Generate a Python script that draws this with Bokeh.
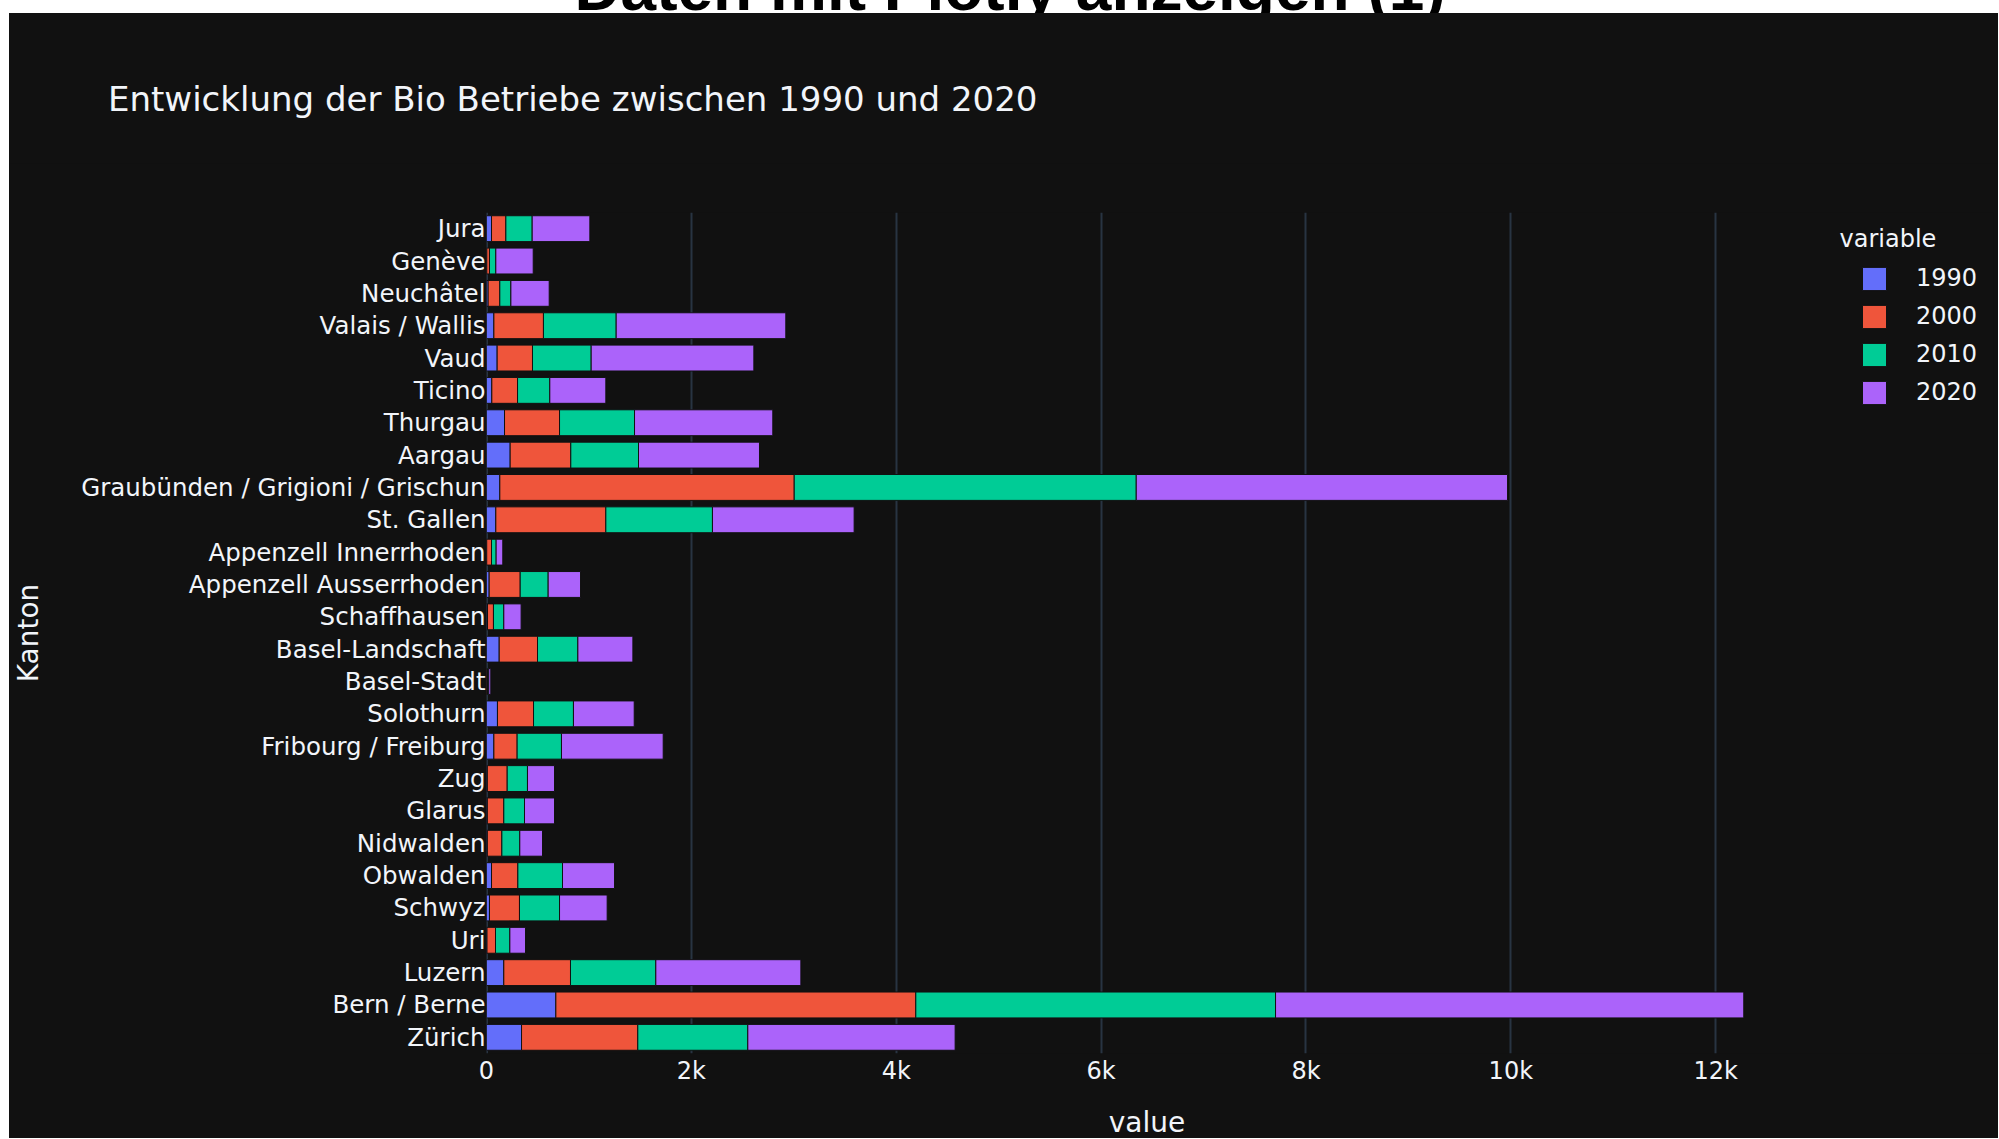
from bokeh.plotting import figure
from bokeh.models import (FactorRange, Range1d, FixedTicker, Span, Div, Label,
                          ColumnDataSource, Legend, LegendItem)
from bokeh.layouts import column
from bokeh.embed import file_html
from bokeh.resources import INLINE

# ---------------- data (bottom -> top, as in the chart) ----------------
kantone = [
    "Zürich", "Bern / Berne", "Luzern", "Uri", "Schwyz", "Obwalden",
    "Nidwalden", "Glarus", "Zug", "Fribourg / Freiburg", "Solothurn",
    "Basel-Stadt", "Basel-Landschaft", "Schaffhausen",
    "Appenzell Ausserrhoden", "Appenzell Innerrhoden", "St. Gallen",
    "Graubünden / Grigioni / Grischun", "Aargau", "Thurgau", "Ticino",
    "Vaud", "Valais / Wallis", "Neuchâtel", "Genève", "Jura",
]
v1990 = [342, 677, 169, 5, 29, 49, 8, 8, 8, 72, 107, 2, 124, 10, 26, 2,
         91, 130, 231, 176, 52, 104, 72, 16, 3, 49]
v2000 = [1135, 3514, 651, 83, 293, 257, 142, 161, 194, 227, 352, 8, 374, 58,
         303, 47, 1074, 2874, 592, 537, 251, 345, 484, 114, 26, 140]
v2010 = [1074, 3512, 833, 140, 391, 436, 175, 202, 198, 433, 390, 12, 394,
         101, 273, 45, 1041, 3339, 661, 732, 315, 573, 710, 108, 62, 257]
v2020 = [2024, 4571, 1416, 153, 465, 508, 222, 293, 264, 993, 593, 20, 537,
         169, 316, 65, 1383, 3625, 1181, 1350, 547, 1588, 1656, 374, 365, 563]
years = ["1990", "2000", "2010", "2020"]
colors = ["#636efa", "#EF553B", "#00cc96", "#ab63fa"]
x_ticks = [0, 2000, 4000, 6000, 8000, 10000, 12000]
x_tick_labels = ["0", "2k", "4k", "6k", "8k", "10k", "12k"]

title_text = "Entwicklung der Bio Betriebe zwischen 1990 und 2020"
header_text = "Daten mit Plotly anzeigen (1)"
legend_title = "variable"
x_title = "value"
y_title = "Kanton"

FONT = "DejaVu Sans"
TEXT = "#f2f5fa"
BG = "#111111"
GRID = "#283442"

src = ColumnDataSource(dict(kanton=kantone, **{"1990": v1990, "2000": v2000,
                                              "2010": v2010, "2020": v2020}))

PAGE_W = 1998
LEFT = 9
W = PAGE_W - LEFT
HEAD_H = 13
TITLE_H = 150
FIG_H = 935
VALUE_H = 40

p = figure(width=W, height=FIG_H,
           y_range=FactorRange(factors=kantone),
           x_range=Range1d(0, 14712),
           output_backend="svg", toolbar_location=None,
           min_border_left=477, min_border_right=5,
           min_border_top=49, min_border_bottom=45,
           background_fill_color=BG, border_fill_color=BG,
           margin=0, styles={"background-color": BG})
p.outline_line_color = None

p.add_layout(Span(location=0, dimension="height", line_color=GRID,
                  line_width=3, level="underlay"))

rs = p.hbar_stack(years, y="kanton", height=0.8, color=colors,
                  line_color=BG, line_width=1, source=src)

# axes
p.xaxis.ticker = FixedTicker(ticks=x_ticks)
p.xaxis.major_label_overrides = {t: l for t, l in zip(x_ticks, x_tick_labels)}
for ax in (p.xaxis[0], p.yaxis[0]):
    ax.axis_line_color = None
    ax.major_tick_line_color = None
    ax.minor_tick_line_color = None
    ax.major_label_text_font = FONT
    ax.major_label_text_font_size = "24px"
    ax.major_label_text_color = TEXT
    ax.axis_label_text_font = FONT
    ax.axis_label_text_font_size = "28px"
    ax.axis_label_text_font_style = "normal"
    ax.axis_label_text_color = TEXT
p.yaxis.major_label_text_font_size = "24.5px"
p.xaxis.major_label_standoff = -3
p.yaxis.major_label_standoff = -5
p.yaxis.axis_label = y_title
p.yaxis.axis_label_standoff = 33

p.xgrid.grid_line_color = GRID
p.xgrid.grid_line_width = 2
p.ygrid.grid_line_color = None

# legend (inside the wide frame, right of the bars)
lg = Legend(items=[LegendItem(label=y, renderers=[r]) for y, r in zip(years, rs)],
            location=(1373, 642),
            background_fill_alpha=0, border_line_color=None,
            padding=0, margin=0, spacing=0, label_height=38,
            glyph_height=29, glyph_width=30, label_standoff=27,
            label_text_font=FONT, label_text_font_size="24px",
            label_text_color=TEXT)
p.add_layout(lg)
p.add_layout(Label(x=1353, y=815, x_units="screen", y_units="screen",
                   text=legend_title, text_font=FONT, text_font_size="24px",
                   text_color=TEXT, text_baseline="alphabetic"))

header = Div(
    text=('<div style="position:relative;top:-44px;left:11px;width:1998px;'
          'text-align:center;font-family:\'Liberation Sans\';font-weight:bold;'
          'font-size:64px;line-height:64px;color:#000;white-space:nowrap">'
          + header_text + '</div>'),
    width=PAGE_W, height=HEAD_H, margin=0, styles={"overflow": "hidden"})

title_div = Div(
    text=('<div style="position:relative;width:%dpx;height:%dpx;'
          'background:#111111;overflow:hidden">'
          '<span style="position:absolute;left:99px;top:69px;'
          'font-family:\'DejaVu Sans\';font-size:34px;line-height:34px;'
          'color:#f2f5fa;white-space:nowrap">%s</span></div>')
         % (W, TITLE_H, title_text),
    width=W, height=TITLE_H, margin=0,
    styles={"background-color": BG, "overflow": "hidden"})

value_div = Div(
    text=('<div style="position:relative;width:%dpx;height:%dpx;'
          'background:#111111;overflow:hidden">'
          '<span style="position:absolute;left:1138px;top:11px;'
          'transform:translateX(-50%%);'
          'font-family:\'DejaVu Sans\';font-size:28px;line-height:28px;'
          'color:#f2f5fa;white-space:nowrap">%s</span></div>')
         % (W, VALUE_H, x_title),
    width=W, height=VALUE_H, margin=0,
    styles={"background-color": BG, "overflow": "hidden"})

inner = column(title_div, p, value_div, margin=(0, 0, 0, LEFT),
               styles={"background-color": BG})
layout = column(header, inner, margin=0)
open("out.html", "w").write(file_html(layout, INLINE))
